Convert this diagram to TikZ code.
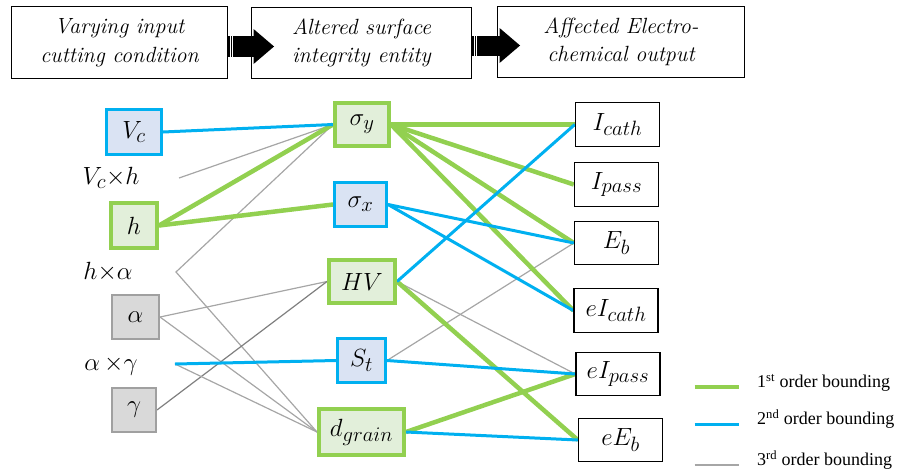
\documentclass[tikz,border=0pt]{standalone}
\usepackage{fontspec}
\setmainfont{Liberation Serif}
\usetikzlibrary{calc,backgrounds}

\definecolor{lgreen}{HTML}{92D050}
\definecolor{lblue}{HTML}{00B0F0}
\definecolor{greenfill}{HTML}{E2EFDA}
\definecolor{bluefill}{HTML}{DAE3F3}
\definecolor{grayfill}{HTML}{D9D9D9}
\definecolor{grayedge}{HTML}{A0A0A0}
\definecolor{thinline}{HTML}{A6A6A6}
\definecolor{darkline}{HTML}{7F7F7F}

\tikzset{
	headbox/.style={draw=black, fill=white, line width=1.4pt, inner sep=0pt, align=center,
		font=\fontsize{22}{28.5}\fontfamily{lmr}\selectfont\itshape},
	factor/.style={inner sep=0pt, font=\fontsize{29.5}{31}\selectfont},
	greenbox/.style={factor, draw=lgreen, fill=greenfill, line width=4pt},
	bluebox/.style={factor, draw=lblue, fill=bluefill, line width=3pt},
	graybox/.style={factor, draw=grayedge, fill=grayfill, line width=2pt},
	outbox/.style={factor, draw=black, fill=white, line width=1.4pt,
		minimum width=84pt, minimum height=43.5pt},
	order1/.style={lgreen, line width=4.5pt},
	order2/.style={lblue, line width=3pt},
	order3/.style={thinline, line width=1.2pt},
	legtext/.style={inner sep=0pt, font=\fontsize{18}{20}\selectfont},
}

% fat striped arrow between two header boxes
\newcommand{\blockarrow}[2]{%
	\coordinate (s) at ($(#1.east)+(0,3.5)$);
	\coordinate (e) at ($(#2.west)+(0,3.5)$);
	\fill (s) ++(0,-10.5) rectangle ($(e)+(3,10.5)$);
	\fill ($(e)+(2.5,-17.5)$) -- ($(e)+(23,0)$) -- ($(e)+(2.5,17.5)$) -- cycle;
	\fill[white] (s) ++(1.6,-10.5) rectangle ++(1,21);
	\fill[white] (s) ++(4,-10.5) rectangle ++(1,21);
}

\begin{document}
\begin{tikzpicture}[x=1pt, y=-1pt]
	\useasboundingbox (0,0) rectangle (899,469);
	
	% Header
	\node[headbox, minimum width=215.5pt, minimum height=71.5pt] (input) at (119.5,42.5)
	{Varying input\\cutting condition};
	\node[headbox, minimum width=219.5pt, minimum height=70.5pt] (entity) at (361.5,43)
	{Altered surface\\integrity entity};
	\node[headbox, minimum width=246.5pt, minimum height=70.5pt] (output) at (621,42)
	{Affected Electro-\\chemical output};
	\blockarrow{input}{entity}
	\blockarrow{entity}{output}
	
	% Cutting conditions
	\node[bluebox, minimum width=55pt, minimum height=45pt] (vc) at (134,132) {$V_c$};
	\node[greenbox, minimum width=46pt, minimum height=45pt] (h) at (134,225.5) {$h$};
	\node[graybox, minimum width=47pt, minimum height=44pt] (al) at (135.5,317) {$\alpha$};
	\node[graybox, minimum width=44pt, minimum height=44pt] (ga) at (134,410) {$\gamma$};
	\node[factor] (vch) at (111,178) {$V_c{\times}h$};
	\node[factor] (hal) at (108,272) {$h{\times}\alpha$};
	\node[factor] (alg) at (111,366) {$\alpha\,{\times}\gamma$};
	\coordinate (vchend) at (179,178);
	\coordinate (halend) at (176,272);
	\coordinate (algend) at (175,364);
	
	% Surface integrity
	\node[greenbox, minimum width=54pt, minimum height=43pt] (sy) at (362,124.5) {$\sigma_y$};
	\node[bluebox, minimum width=52pt, minimum height=44pt] (sx) at (360.5,204.5) {$\sigma_x$};
	\node[greenbox, minimum width=66pt, minimum height=43pt] (hv) at (362,281.5) {$HV$};
	\node[bluebox, minimum width=48pt, minimum height=44pt] (st) at (361.5,360.5) {$S_t$};
	\node[greenbox, minimum width=85pt, minimum height=46pt] (dg) at (361.5,432) {$d_{grain}$};
	
	% Electrochemical output
	\foreach \nm/\x/\y/\lab in {icath/617.5/124.5/{I_{cath}}, ipass/616.5/184.5/{I_{pass}},
		eb/616.5/243/{E_b}, eicath/616/310.5/{eI_{cath}}, eipass/618/374/{eI_{pass}},
		eeb/620.5/440/{eE_b}}{
		\node[outbox] (\nm) at (\x,\y) {$\lab$};
	}
	
	\begin{scope}[on background layer]
		% 3rd order
		\draw[order3] (vchend) -- (sy.west);
		\draw[order3] (sy.west) -- (halend) -- (dg.west);
		\draw[order3] (al.east) -- (hv.west);
		\draw[order3] (al.east) -- (dg.west);
		\draw[order3, draw=darkline] (ga.east) -- (hv.west);
		\draw[order3] (algend) -- (dg.west);
		\draw[order3] (hv.east) -- (eipass.west);
		\draw[order3] (st.east) -- (eb.west);
		% 1st order
		\draw[order1] (h.east) -- (sy.west);
		\draw[order1] (h.east) -- (sx.west);
		\foreach \o in {icath,ipass,eb,eicath}
			\draw[order1] (sy.east) -- (\o.west);
		\draw[order1] (hv.east) -- (eeb.west);
		\draw[order1] (dg.east) -- (eipass.west);
		% 2nd order
		\draw[order2] (vc.east) -- (sy.west);
		\draw[order2] (algend) -- (st.west);
		\draw[order2] (sx.east) -- (eb.west);
		\draw[order2] (sx.east) -- (eicath.west);
		\draw[order2] (hv.east) -- (icath.west);
		\draw[order2] (st.east) -- (eipass.west);
		\draw[order2] (dg.east) -- (eeb.west);
	\end{scope}
	
	% Legend
	\foreach \i/\st/\y/\lab in {1/order1/387/{1\textsuperscript{st}},
		2/order2/424/{2\textsuperscript{nd}}, 3/order3/465/{3\textsuperscript{rd}}}{
		\coordinate (la\i) at (694.5,\y);
		\coordinate (lb\i) at (738.5,\y);
		\draw[\st] (la\i) -- (lb\i);
		\node[legtext, anchor=base west] (leg\i) at (757,\y+0.5) {\lab{} order bounding};
	}
\end{tikzpicture}
\end{document}
